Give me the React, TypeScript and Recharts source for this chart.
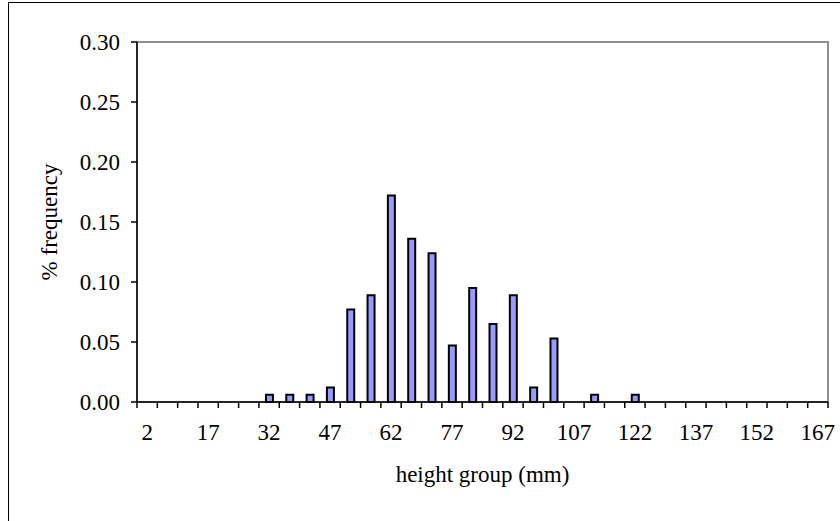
import React from "react";
import { BarChart, Bar, XAxis, YAxis, Label, ReferenceArea } from "recharts";

// height groups (mm), one bar per group
const heightGroups = [
  "2", "7", "12", "17", "22", "27", "32", "37", "42", "47", "52", "57",
  "62", "67", "72", "77", "82", "87", "92", "97", "102", "107", "112", "117",
  "122", "127", "132", "137", "142", "147", "152", "157", "162", "167",
];

// share of plants in each group
const frequency = [
  0, 0, 0, 0, 0, 0, 0.006, 0.006, 0.006, 0.012, 0.077, 0.089,
  0.172, 0.136, 0.124, 0.047, 0.095, 0.065, 0.089, 0.012, 0.053, 0, 0.006, 0,
  0.006, 0, 0, 0, 0, 0, 0, 0, 0, 0,
];

const yTicks = [0, 0.05, 0.1, 0.15, 0.2, 0.25, 0.3];

const data = heightGroups.map((group, i) => ({ group, freq: frequency[i] }));

const WIDTH = 840;
const HEIGHT = 521;
const margin = { top: 42, right: 12, bottom: 79, left: 77 };
const Y_AXIS_W = 60;
const X_AXIS_H = 40;
const band = (WIDTH - margin.left - margin.right - Y_AXIS_W) / heightGroups.length;

const font = "Liberation Serif, Times New Roman, serif";
const FONT_SIZE = 23;

// Excel-style ticks: marks between the groups, a label on every third group
const GroupTick = (props: any) => {
  const { x, y, index, payload } = props;
  const last = index === heightGroups.length - 1;
  return (
    <g>
      <line x1={x - band / 2} x2={x - band / 2} y1={y} y2={y + 6} stroke="#000" strokeWidth={1.5} />
      {last && (
        <line x1={x + band / 2} x2={x + band / 2} y1={y} y2={y + 6} stroke="#000" strokeWidth={1.5} />
      )}
      {index % 3 === 0 && (
        <text x={x} y={y + 38} textAnchor="middle" fontSize={FONT_SIZE} fontFamily={font} fill="#000">
          {payload.value}
        </text>
      )}
    </g>
  );
};

const App: React.FC = () => {
  return (
    <div
      style={{
        position: "fixed",
        left: 0,
        top: 0,
        width: WIDTH,
        height: HEIGHT,
        overflow: "hidden",
        background: "#fff",
      }}
    >
      <div
        style={{
          position: "absolute",
          left: 8,
          top: 2,
          width: 900,
          height: 600,
          border: "1.5px solid #000",
        }}
      />
      <div style={{ position: "absolute", left: 0, top: 0 }}>
        <BarChart width={WIDTH} height={HEIGHT} data={data} margin={margin} barSize={7}>
          {/* grey frame round the plot area; the black axes cover its left and bottom */}
          <ReferenceArea y1={0} y2={0.3} fill="none" stroke="#909090" strokeWidth={2} />
          <XAxis
            dataKey="group"
            height={X_AXIS_H}
            interval={0}
            tickSize={0}
            tickMargin={0}
            tickLine={false}
            tick={<GroupTick />}
            axisLine={{ stroke: "#000", strokeWidth: 1.5 }}
          >
            <Label
              value="height group (mm)"
              position="bottom"
              offset={24}
              style={{ fontSize: FONT_SIZE, fontFamily: font, fill: "#000" }}
            />
          </XAxis>
          <YAxis
            width={Y_AXIS_W}
            domain={[0, 0.3]}
            ticks={yTicks}
            interval={0}
            tickFormatter={(v: number) => v.toFixed(2)}
            tickSize={6}
            tickMargin={11}
            tickLine={{ stroke: "#000", strokeWidth: 1.5 }}
            axisLine={{ stroke: "#000", strokeWidth: 1.5 }}
            tick={{ fontSize: FONT_SIZE, fontFamily: font, fill: "#000" }}
          >
            <Label
              value="% frequency"
              angle={-90}
              position="insideLeft"
              offset={-28}
              style={{ fontSize: FONT_SIZE, fontFamily: font, fill: "#000", textAnchor: "middle" }}
            />
          </YAxis>
          <Bar
            dataKey="freq"
            fill="#9999FF"
            stroke="#000"
            strokeWidth={2}
            isAnimationActive={false}
          />
        </BarChart>
      </div>
    </div>
  );
};

export default App;
